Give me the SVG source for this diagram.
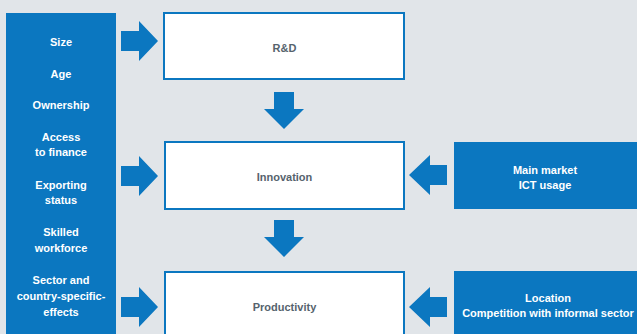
<svg xmlns="http://www.w3.org/2000/svg" width="637" height="334" viewBox="0 0 637 334">
<style>
.panel{fill:#0b77c0}
.box{fill:#ffffff;stroke:#0b77c0;stroke-width:2}
.arrow{fill:#0b77c0}
.wt{font-family:"Liberation Sans",Arial,sans-serif;font-weight:bold;font-size:11px;fill:#ffffff;text-anchor:middle}
.gt{font-family:"Liberation Sans",Arial,sans-serif;font-weight:bold;font-size:11px;fill:#56636d;text-anchor:middle}
</style>
<rect width="637" height="334" fill="#e1e5e9"/>
<g id="factors">
<rect class="panel" x="6" y="13" width="110" height="321"/>
<text class="wt" x="61" y="46">Size</text>
<text class="wt" x="61" y="78">Age</text>
<text class="wt" x="61" y="109">Ownership</text>
<text class="wt" x="61" y="141">Access</text>
<text class="wt" x="61" y="156">to finance</text>
<text class="wt" x="61" y="189">Exporting</text>
<text class="wt" x="61" y="204">status</text>
<text class="wt" x="61" y="236">Skilled</text>
<text class="wt" x="61" y="252">workforce</text>
<text class="wt" x="61" y="284">Sector and</text>
<text class="wt" x="61" y="300">country-specific-</text>
<text class="wt" x="61" y="316">effects</text>
</g>
<g id="rd">
<rect class="box" x="164" y="13" width="240" height="66"/>
<text class="gt" x="284.5" y="52">R&amp;D</text>
</g>
<g id="innovation">
<rect class="box" x="165" y="142" width="239" height="67"/>
<text class="gt" x="284.5" y="181">Innovation</text>
</g>
<g id="productivity">
<rect class="box" x="165" y="272" width="239" height="70"/>
<text class="gt" x="284.5" y="311">Productivity</text>
</g>
<g id="market">
<rect class="panel" x="454" y="142" width="183" height="67"/>
<text class="wt" x="545" y="174">Main market</text>
<text class="wt" x="545" y="189">ICT usage</text>
</g>
<g id="location">
<rect class="panel" x="454" y="271" width="183" height="63"/>
<text class="wt" x="548" y="302">Location</text>
<text class="wt" x="548" y="317">Competition with informal sector</text>
</g>
<g id="connectors">
<polygon class="arrow" points="121,31 139,31 139,21 158,41 139,61 139,51 121,51"/>
<polygon class="arrow" points="121,166 139,166 139,156 158,176 139,196 139,186 121,186"/>
<polygon class="arrow" points="121,297 139,297 139,287 158,307 139,327 139,317 121,317"/>
<polygon class="arrow" points="447,165 430,165 430,155 409,175 430,195 430,185 447,185"/>
<polygon class="arrow" points="447,297 430,297 430,287 409,307 430,327 430,317 447,317"/>
<polygon class="arrow" points="274,92 294,92 294,109 304,109 284,129 264,109 274,109"/>
<polygon class="arrow" points="274,220 294,220 294,237 304,237 284,257 264,237 274,237"/>
</g>
</svg>
